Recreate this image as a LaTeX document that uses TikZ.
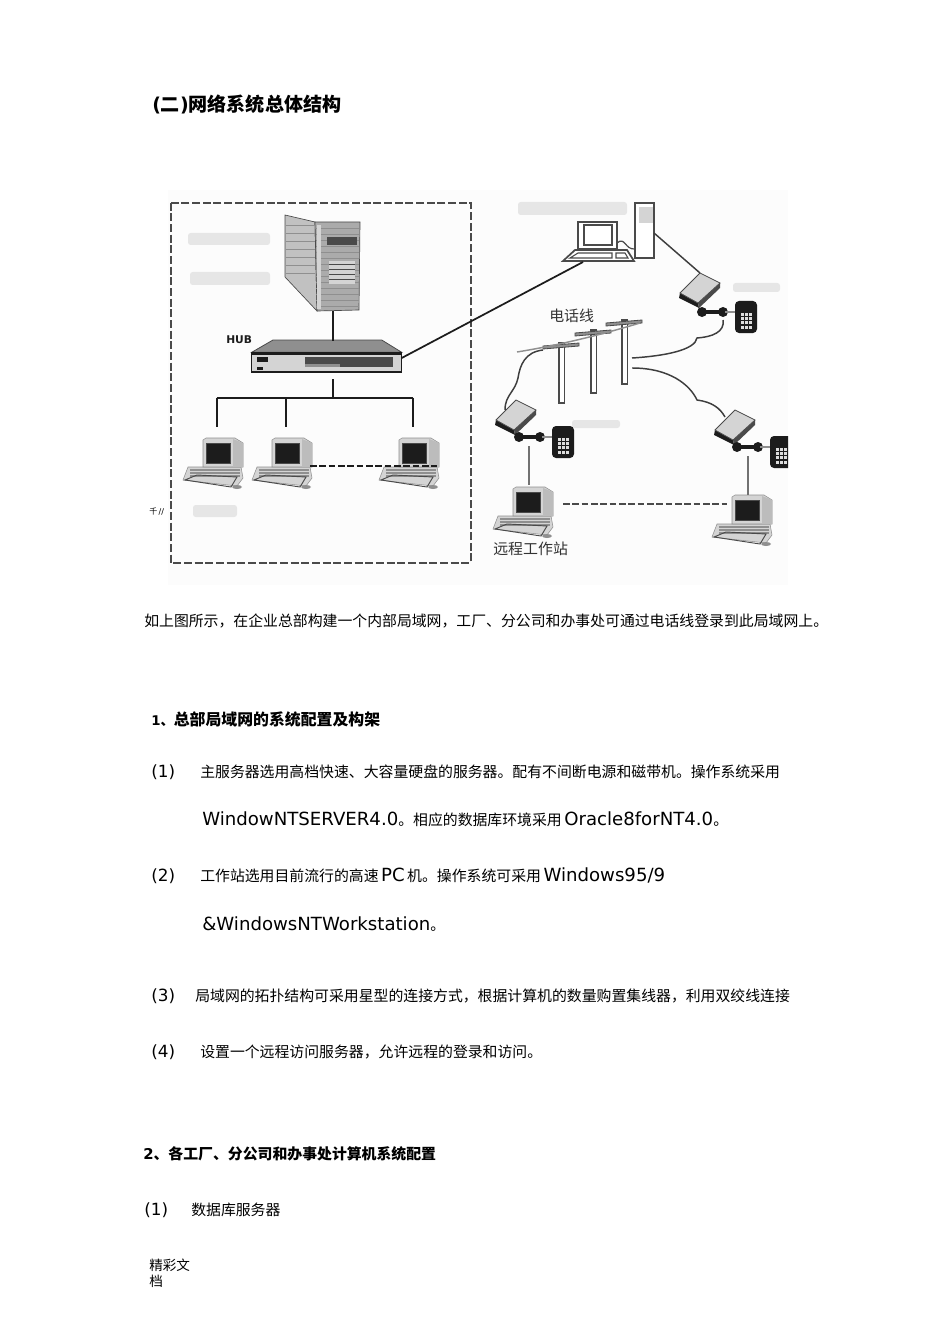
\documentclass[tikz,border=0pt]{standalone}
\usepackage{fontspec}
\setmainfont{DejaVu Sans}
\newfontfamily\cjk{Noto Sans CJK SC}
\newcommand\zh[1]{{\cjk #1}}
\newcommand\la[1]{{\fontsize{13.6pt}{15pt}\selectfont #1}}
\newcommand\nm[1]{{\fontsize{12.6pt}{15pt}\selectfont #1}}
\begin{document}
\begin{tikzpicture}[>=latex,x=.75pt,y=-.75pt,
  txt/.style={anchor=base west,inner sep=0pt,font=\fontsize{11.15pt}{12pt}\selectfont},
  gras/.style={txt,font=\fontsize{11.15pt}{12pt}\selectfont\bfseries},
  petit/.style={txt,font=\fontsize{10.2pt}{12pt}\selectfont},
  flou/.style={fill=flougris,rounded corners=2pt},
  trait/.style={line width=1.3pt,color=noir},
  tirets/.style={line width=1.2pt,color=noir,dash pattern=on 5pt off 2pt},
  fil/.style={line width=1.1pt,color=noir!85},
  workstation/.pic={
    \fill[clair,draw=moyen,line width=.4pt] (-15,29) -- (38,29) -- (40,40) -- (34,48) -- (-20,42) -- cycle;
    \foreach \k in {32,35,38}{\draw[moyen,line width=.8pt] (-13,\k) -- (37,\k);}
    \draw[fonce,line width=.7pt] (-18,42) -- (-6,37) -- (34,39) -- (28,49) -- cycle;
    \fill[clair,draw=moyen,line width=.4pt] (0,2) -- (3,0) -- (32,0) -- (40,5) -- (40,29) -- (0,29) -- cycle;
    \fill[moyen!60] (30,1) -- (40,5) -- (40,29) -- (30,29) -- cycle;
    \fill[noir,draw=fonce] (3,5) rectangle (27,25);
    \fill[moyen] (34,49) ellipse (5 and 2);
    \coordinate (-haut) at (20,0);
    \coordinate (-droite) at (38,28);
  },
  modem/.pic={
    \fill[noir] (-20,5) -- (-2,15) -- (-1,20) -- (-21,10) -- cycle;
    \fill[fonce] (-2,15) -- (20,-5) -- (20,0) -- (-1,20) -- cycle;
    \fill[clair,draw=fonce,line width=.6pt] (0,-15) -- (20,-5) -- (-2,15) -- (-20,5) -- cycle;
    \coordinate (-haut) at (0,-15);
    \coordinate (-bas) at (-2,15);
  },
  poste/.pic={
    \draw[line width=3pt,noir] (0,0) -- (25,0);
    \fill[noir] (2,0) circle (5);
    \fill[noir] (23,0) circle (5);
    \draw[fil,moyen] (25,0) -- (36,0);
    \fill[noir,rounded corners=3pt] (35,-11) rectangle (57,21);
    \foreach \i in {0,1,2}{\foreach \j in {0,1,2,3}{
      \fill[clair!80] (41+\i*4.2,1+\j*4.2) rectangle +(3,3);}}
    \coordinate (-bas) at (14,9);
    \coordinate (-fil) at (24,8);
  },
]
\definecolor{noir}{HTML}{1c1c1c}
\definecolor{fonce}{HTML}{4a4a4a}
\definecolor{moyen}{HTML}{8f8f8f}
\definecolor{clair}{HTML}{d4d4d4}
\definecolor{flougris}{HTML}{e6e6e6}
\definecolor{fondgris}{HTML}{fcfcfc}

\useasboundingbox (0,0) rectangle (950,1344);
\fill[white] (0,0) rectangle (950,1344);
\fill[fondgris] (168,190) rectangle (788,585); %le fond de l'image

\node[gras,font=\fontsize{14.3pt}{15pt}\selectfont\bfseries] (titre) at (152,112) {(\zh{二})\zh{网络系统总体结构}};

%les zones floues
\fill[flou] (188,233) rectangle (270,245);
\fill[flou] (190,272) rectangle (270,285);
\fill[flou] (193,505) rectangle (237,517);
\fill[flou] (518,202) rectangle (627,215);
\fill[flou] (733,283) rectangle (780,292);
\fill[flou] (572,420) rectangle (620,428);

\draw[tirets,color=fonce,line width=1.4pt,dash pattern=on 6pt off 2pt] (170.7,202.7) rectangle (470.7,562.7); %le cadre du siege
\node[txt,font=\fontsize{6pt}{7pt}\selectfont] (marge) at (149,514) {\zh{千}\,//};

%le serveur
\fill[moyen!55,draw=fonce,line width=.5pt] (285,215) -- (315,222) -- (317,311) -- (285,277) -- cycle;
\fill[moyen!75,draw=fonce,line width=.5pt] (315,222) -- (360,222) -- (359,310) -- (317,311) -- cycle;
\foreach \k in {228,234,...,306}{\draw[moyen,line width=.4pt] (316,\k) -- (359,\k);}
\foreach \k in {225,233,...,273}{\draw[moyen,line width=.4pt] (286,\k) -- (315,\k);}
\fill[fonce] (327,237) rectangle (357,245);
\fill[clair] (329,261) rectangle (355,284);
\foreach \k in {264,269,274,279}{\draw[fonce,line width=.5pt] (329,\k) -- (355,\k);}
\fill[clair] (317,225) rectangle (321,309);
\coordinate (srvbas) at (332.7,311);

%le hub
\fill[moyen,draw=fonce,line width=.6pt] (251.7,352.3) -- (273,340) -- (381.7,340) -- (401.7,352.3) -- cycle;
\fill[clair,draw=noir,line width=.8pt] (251.7,352.3) rectangle (401.7,372);
\fill[noir] (251.7,352.3) rectangle (401.7,354.5);
\fill[fonce] (305,357) rectangle (393,367);
\fill[moyen] (305,364) rectangle (340,367);
\fill[noir] (257,357) rectangle (268,362);
\fill[noir] (257,367) rectangle (263,370);
\coordinate (hubhaut) at (332.7,340.7);
\coordinate (hubbas) at (332.7,379);
\coordinate (hubdroite) at (401.7,358);
\node[txt,font=\fontsize{8pt}{9pt}\selectfont\bfseries,color=noir] (hub) at (226,343) {HUB};

%le bus des postes
\coordinate (bus) at (332.7,397.7);
\coordinate (busA) at (216.7,397.7);
\coordinate (busB) at (286,397.7);
\coordinate (busC) at (412.7,397.7);
\coordinate (dropA) at (216.7,427);
\coordinate (dropB) at (286,427);
\coordinate (dropC) at (412.7,427);
\draw[trait] (srvbas) -- (hubhaut);
\draw[trait] (hubbas) -- (bus);
\draw[trait] (busA) -- (busC);
\foreach \a/\b in {busA/dropA,busB/dropB,busC/dropC}{\draw[trait] (\a) -- (\b);}

\pic (pcA) at (203,438) {workstation};
\pic (pcB) at (272,438) {workstation};
\pic (pcC) at (399,438) {workstation};
\coordinate (pcCbout) at (437,465.7);
\coordinate (pcBbout) at (310,465.7);
\draw[tirets] (pcBbout) -- (pcCbout);

%le poste distant
\fill[white,draw=fonce,line width=1.1pt] (635,203) rectangle (654,258);
\fill[clair] (639,207) rectangle (653,223);
\fill[white,draw=fonce,line width=1.3pt] (578,222) rectangle (617,249);
\draw[fonce,line width=1.1pt] (584,225) rectangle (612,245);
\fill[white,draw=fonce,line width=1.3pt] (563,261) -- (575,250) -- (627,250) -- (634,261) -- cycle;
\draw[fonce,line width=.8pt] (570,258) -- (578,253) -- (612,253) -- (612,258) -- cycle;
\draw[fonce,line width=.8pt] (616,258) -- (616,253) -- (625,253) -- (628,258) -- cycle;
\draw[fonce,line width=.9pt] (617,243) .. controls (625,236) and (625,250) .. (635,249);
\coordinate (clavier) at (583,262);
\coordinate (tour) at (654,233);

%les poteaux
\foreach \x/\y/\h in {559/343/60,591/330/63,622/320/64}{
  \fill[white,draw=fonce,line width=1pt] (\x,\y) rectangle +(5.5,\h);
  \fill[moyen,draw=fonce,line width=.6pt] (\x-16,\y+3) -- (\x+20,\y) -- (\x+20,\y+3) -- (\x-16,\y+6) -- cycle;
}
\node[txt,font=\fontsize{11.2pt}{12pt}\selectfont,color=noir!90] (ligne) at (549,321) {\zh{电话线}};
\draw[fil,moyen] (517,352) .. controls (560,345) and (600,335) .. (640,323);

%les modems
\pic (mdA) at (700,288) {modem};
\pic (mdB) at (516,415) {modem};
\pic (mdC) at (735,425) {modem};
\pic (ptA) at (700,312) {poste};
\pic (ptB) at (517,437) {poste};
\begin{scope}
\clip (168,190) rectangle (788,585);
\pic (ptC) at (735,447) {poste};
\end{scope}

\coordinate (poteauA) at (632,358);
\coordinate (poteauB) at (632,368);
\coordinate (poteauC) at (543,350);
\coordinate (mdAfil) at (723,320);
\coordinate (mdCfil) at (725,417);
\coordinate (mdBfil) at (505,410);
\draw[trait] (hubdroite) -- (clavier);
\draw[fil] (tour) -- (mdA-haut);
\draw[fil] (poteauA) .. controls (665,356) and (695,350) .. (697,338) .. controls (712,337) and (725,332) .. (mdAfil);
\draw[fil] (poteauB) .. controls (670,368) and (690,385) .. (697,400) .. controls (712,402) and (720,408) .. (mdCfil);
\draw[fil] (poteauC) .. controls (525,352) and (520,365) .. (518,378) .. controls (515,392) and (505,395) .. (mdBfil);

%les postes distants
\pic (pcD) at (513,487) {workstation};
\pic (pcE) at (732,495) {workstation};
\coordinate (pcDfil) at (529,485);
\coordinate (pcEfil) at (748,495);
\coordinate (tiretD) at (563,504);
\coordinate (tiretE) at (727,504);
\draw[fil,moyen!80!black] (ptB-bas) ++(-2,0) -- (pcDfil);
\draw[fil,moyen!80!black] (ptC-bas) ++(-1,0) -- (pcEfil);
\draw[tirets,fonce] (tiretD) -- (tiretE);
\node[txt,font=\fontsize{11.2pt}{12pt}\selectfont,color=noir!90] (distant) at (493,554) {\zh{远程工作站}};

%le texte
\node[txt] (legende) at (144,626) {\zh{如上图所示，在企业总部构建一个内部局域网，工厂、分公司和办事处可通过电话线登录到此局域网上。}};
\node[gras,font=\fontsize{11.9pt}{12pt}\selectfont\bfseries] (secA) at (151,725) {\fontsize{10pt}{12pt}\selectfont 1\zh{、}\fontsize{11.9pt}{12pt}\selectfont\zh{总部局域网的系统配置及构架}};
\node[txt] (numA) at (151,777) {\nm{(1)}};
\node[txt] (texA) at (200,777) {\zh{主服务器选用高档快速、大容量硬盘的服务器。配有不间断电源和磁带机。操作系统采用}};
\node[txt] (texAb) at (202,825) {\la{WindowNTSERVER4.0}\zh{。相应的数据库环境采用}\,\la{Oracle8forNT4.0}\zh{。}};
\node[txt] (numB) at (151,881) {\nm{(2)}};
\node[txt] (texB) at (200,881) {\zh{工作站选用目前流行的高速}\,\la{PC}\,\zh{机。操作系统可采用}\,\la{Windows95/9}};
\node[txt] (texBb) at (202,930) {\la{\&WindowsNTWorkstation}\zh{。}};
\node[txt] (numC) at (151,1001) {\nm{(3)}};
\node[txt] (texC) at (195,1001) {\zh{局域网的拓扑结构可采用星型的连接方式，根据计算机的数量购置集线器，利用双绞线连接}};
\node[txt] (numD) at (151,1057) {\nm{(4)}};
\node[txt] (texD) at (200,1057) {\zh{设置一个远程访问服务器，允许远程的登录和访问。}};
\node[gras] (secB) at (143,1159) {2\zh{、各工厂、分公司和办事处计算机系统配置}};
\node[txt] (numE) at (144,1215) {\nm{(1)}};
\node[txt] (texE) at (191,1215) {\zh{数据库服务器}};
\node[petit] (piedA) at (149,1270) {\zh{精彩文}};
\node[petit] (piedB) at (149,1286) {\zh{档}};
\end{tikzpicture}
\end{document}
